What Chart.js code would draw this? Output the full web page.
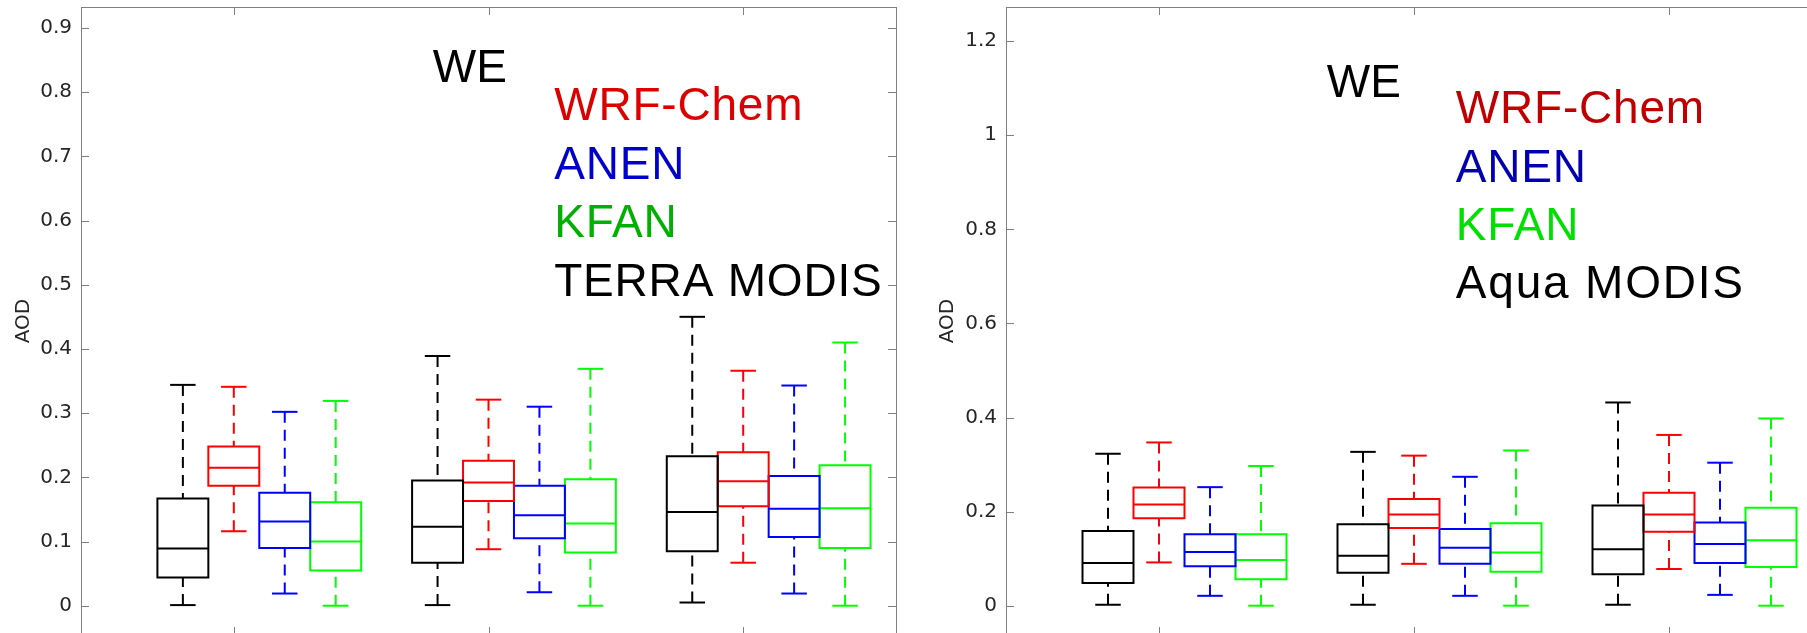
<!DOCTYPE html>
<html>
<head>
<meta charset="utf-8">
<script src="https://cdn.jsdelivr.net/npm/chart.js@4.4.1/dist/chart.umd.min.js"></script>
<style>
  html, body { margin: 0; padding: 0; background: #fff; overflow: hidden; width: 1807px; height: 633px; }
  canvas { position: absolute; top: 0; }
  #terraChart { left: 0; }
  #aquaChart { left: 920px; }
</style>
</head>
<body>
<canvas id="terraChart" width="905" height="640"></canvas>
<canvas id="aquaChart" width="910" height="640"></canvas>
<script>
// three groups of boxes, no category labels on the axis
const groups = [1, 2, 3];
const seriesNames = ['MODIS', 'WRF-Chem', 'ANEN', 'KFAN'];

// each entry: [lower whisker, q1, median, q3, upper whisker]
const terraModis = [[0.001, 0.044, 0.089, 0.167, 0.344], [0.001, 0.067, 0.123, 0.195, 0.389], [0.005, 0.085, 0.146, 0.233, 0.450]];
const terraWrf   = [[0.116, 0.187, 0.215, 0.248, 0.341], [0.088, 0.163, 0.192, 0.226, 0.321], [0.067, 0.155, 0.194, 0.239, 0.366]];
const terraAnen  = [[0.019, 0.090, 0.131, 0.176, 0.302], [0.021, 0.105, 0.141, 0.187, 0.310], [0.019, 0.107, 0.151, 0.202, 0.343]];
const terraKfan  = [[0.000, 0.055, 0.100, 0.161, 0.319], [0.000, 0.083, 0.128, 0.197, 0.369], [0.000, 0.090, 0.152, 0.219, 0.410]];

const aquaModis = [[0.002, 0.048, 0.091, 0.159, 0.323], [0.002, 0.070, 0.106, 0.173, 0.327], [0.002, 0.067, 0.120, 0.213, 0.432]];
const aquaWrf   = [[0.092, 0.186, 0.215, 0.251, 0.347], [0.089, 0.165, 0.194, 0.227, 0.319], [0.078, 0.157, 0.194, 0.240, 0.363]];
const aquaAnen  = [[0.021, 0.084, 0.114, 0.152, 0.252], [0.021, 0.089, 0.123, 0.163, 0.274], [0.023, 0.091, 0.131, 0.177, 0.304]];
const aquaKfan  = [[0.000, 0.056, 0.097, 0.152, 0.297], [0.000, 0.072, 0.113, 0.175, 0.330], [0.000, 0.082, 0.139, 0.208, 0.398]];

const terraTicks = [0, 0.1, 0.2, 0.3, 0.4, 0.5, 0.6, 0.7, 0.8, 0.9];
const aquaTicks = [0, 0.2, 0.4, 0.6, 0.8, 1, 1.2];

const terraNotes = ['WE', 'WRF-Chem', 'ANEN', 'KFAN', 'TERRA MODIS'];
const aquaNotes = ['WE', 'WRF-Chem', 'ANEN', 'KFAN', 'Aqua MODIS'];

// styling
const boxColors = ['#000000', '#ff0000', '#0000ff', '#00ff00'];
const boxOffsets = [-0.2, 0, 0.2, 0.4];
const dash = [11, 7];

function boxDatasets(stats, color, offset) {
  const out = [];
  const hw = 0.1, cw = 0.05;
  const base = { borderColor: color, borderWidth: 2, pointRadius: 0, showLine: true, fill: false, borderCapStyle: 'butt' };
  stats.forEach((s, i) => {
    const [lo, q1, med, q3, hi] = s;
    const x = groups[i] + offset;
    out.push({ ...base, borderCapStyle: 'square', borderJoinStyle: 'miter',
      data: [{ x: x - hw, y: q1 }, { x: x + hw, y: q1 }, { x: x + hw, y: q3 }, { x: x - hw, y: q3 }, { x: x - hw, y: q1 }] });
    out.push({ ...base, data: [{ x: x - hw, y: med }, { x: x + hw, y: med }] });
    out.push({ ...base, borderDash: dash, data: [{ x: x, y: hi }, { x: x, y: q3 }] });
    out.push({ ...base, borderDash: dash, data: [{ x: x, y: lo }, { x: x, y: q1 }] });
    out.push({ ...base, data: [{ x: x - cw, y: hi }, { x: x + cw, y: hi }] });
    out.push({ ...base, data: [{ x: x - cw, y: lo }, { x: x + cw, y: lo }] });
  });
  return out;
}

// box frame + inward ticks on all four sides
const framePlugin = {
  id: 'frame',
  afterDraw(chart) {
    const { ctx, chartArea: a, scales: { x, y } } = chart;
    ctx.save();
    ctx.strokeStyle = '#808080';
    ctx.lineWidth = 1;
    ctx.strokeRect(a.left + 0.5, a.top + 0.5, a.right - a.left, a.bottom - a.top);
    ctx.beginPath();
    y.ticks.forEach(t => {
      const py = Math.round(y.getPixelForValue(t.value)) + 0.5;
      ctx.moveTo(a.left, py); ctx.lineTo(a.left + 8, py);
      ctx.moveTo(a.right, py); ctx.lineTo(a.right - 8, py);
    });
    groups.forEach(g => {
      const px = Math.round(x.getPixelForValue(g)) + 0.5;
      ctx.moveTo(px, a.top); ctx.lineTo(px, a.top + 8);
      ctx.moveTo(px, a.bottom); ctx.lineTo(px, a.bottom - 8);
    });
    ctx.stroke();
    ctx.restore();
  }
};

// region name and coloured legend text
const notesPlugin = {
  id: 'notes',
  afterDraw(chart, args, opts) {
    const { ctx, scales: { x, y } } = chart;
    ctx.save();
    ctx.font = '46px "Liberation Sans", Arial, sans-serif';
    ctx.textBaseline = 'alphabetic';
    ctx.textAlign = 'left';
    opts.items.forEach(it => {
      ctx.fillStyle = it.color;
      ctx.letterSpacing = it.spacing + 'px';
      ctx.fillText(it.text, x.getPixelForValue(it.x), y.getPixelForValue(it.y));
    });
    ctx.restore();
  }
};

function makeChart(id, stats, cfg) {
  const datasets = [];
  stats.forEach((s, k) => datasets.push(...boxDatasets(s, boxColors[k], boxOffsets[k])));
  return new Chart(document.getElementById(id), {
    type: 'scatter',
    data: { datasets },
    options: {
      responsive: false,
      animation: false,
      devicePixelRatio: 1,
      layout: { padding: { top: 7, right: cfg.padRight, bottom: 5, left: 0 } },
      plugins: {
        legend: { display: false },
        tooltip: { enabled: false },
        notes: { items: cfg.notes }
      },
      scales: {
        x: { type: 'linear', min: 0.4, max: 3.6, display: false },
        y: {
          min: cfg.yMin, max: cfg.yMax,
          grid: { display: false, drawTicks: false },
          border: { display: false },
          afterFit: s => { s.width = cfg.axisWidth; s.paddingTop = 0; s.paddingBottom = 0; },
          afterBuildTicks: s => { s.ticks = cfg.ticks.map(v => ({ value: v })); },
          ticks: {
            padding: 9, color: '#262626',
            font: { family: 'DejaVu Sans', size: 20 },
            callback: v => String(parseFloat(Number(v).toFixed(2)))
          },
          title: {
            display: true, text: 'AOD', color: '#262626',
            font: { family: 'DejaVu Sans', size: 20 },
            padding: { top: cfg.titlePad, bottom: 0 }
          }
        }
      }
    },
    plugins: [framePlugin, notesPlugin]
  });
}

const terraColors = ['#000000', '#dd0000', '#0000cc', '#00b000', '#000000'];
const aquaColors = ['#000000', '#c00000', '#0000b0', '#00e000', '#000000'];
const terraNoteX = [1.781, 2.258, 2.258, 2.258, 2.258];
const terraNoteY = [0.816, 0.757, 0.664, 0.575, 0.483];
const aquaNoteX = [1.658, 2.164, 2.164, 2.164, 2.164];
const aquaNoteY = [1.082, 1.026, 0.901, 0.777, 0.654];

makeChart('terraChart', [terraModis, terraWrf, terraAnen, terraKfan], {
  yMin: -0.0456, yMax: 0.9326, ticks: terraTicks, axisWidth: 81, padRight: 9, titlePad: 12,
  notes: terraNotes.map((t, i) => ({ text: t, x: terraNoteX[i], y: terraNoteY[i], color: terraColors[i], spacing: i === 0 ? 0 : 0.8 }))
});

makeChart('aquaChart', [aquaModis, aquaWrf, aquaAnen, aquaKfan], {
  yMin: -0.0623, yMax: 1.2727, ticks: aquaTicks, axisWidth: 86, padRight: 8, titlePad: 16,
  notes: aquaNotes.map((t, i) => ({ text: t, x: aquaNoteX[i], y: aquaNoteY[i], color: aquaColors[i], spacing: i === 0 ? 0 : (i === 4 ? 1.8 : 0.8) }))
});
</script>
</body>
</html>
